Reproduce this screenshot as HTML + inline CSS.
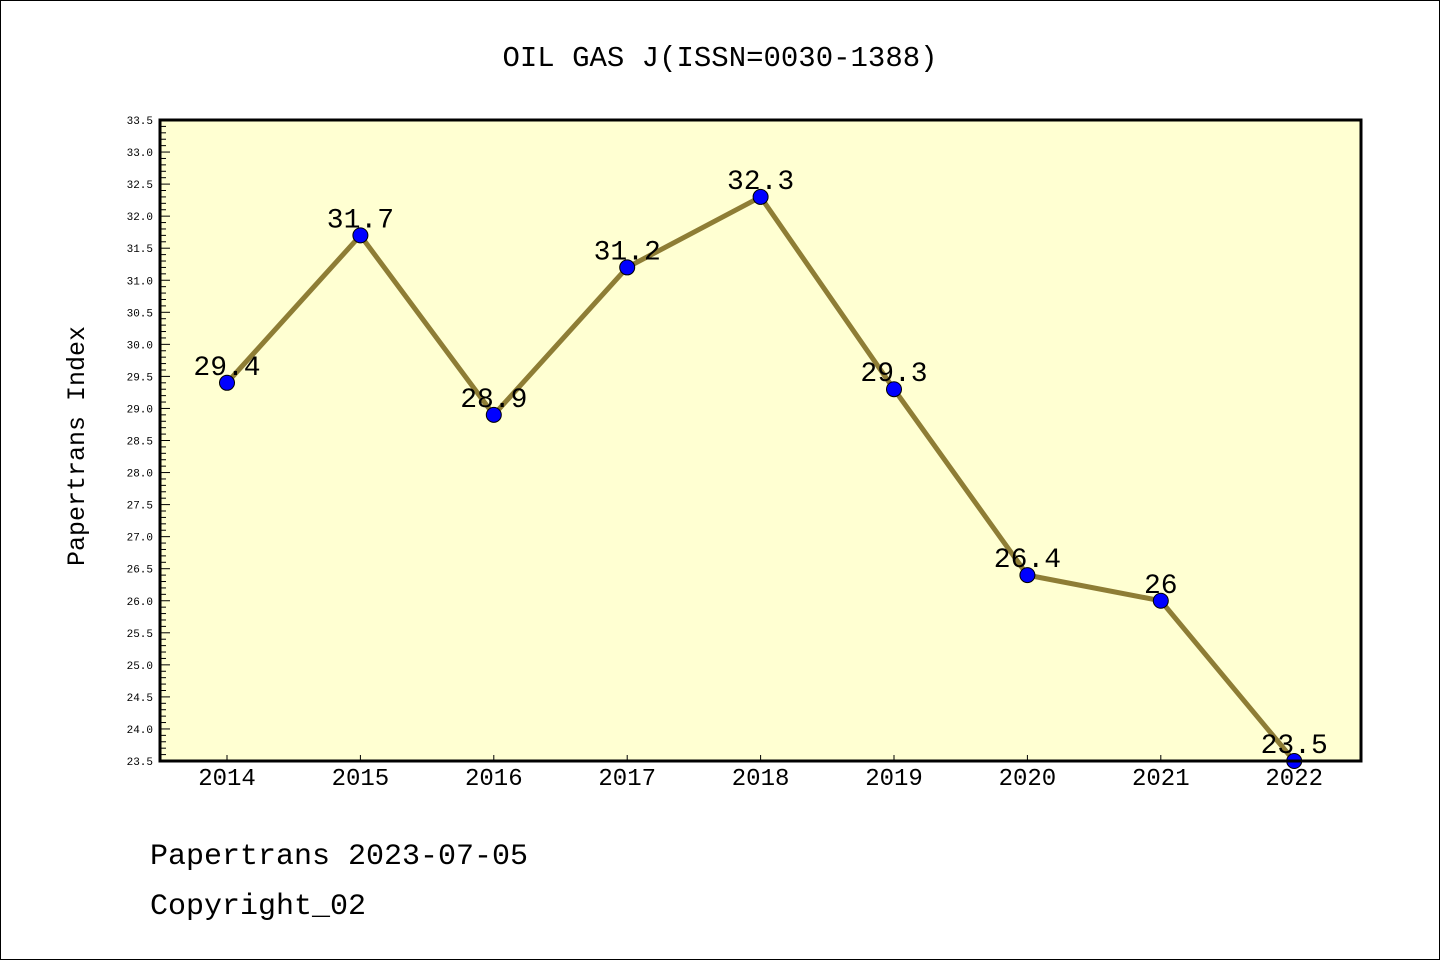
<!DOCTYPE html>
<html><head><meta charset="utf-8"><style>
html,body{margin:0;padding:0;background:#fff}
svg{display:block}
text{font-family:"Liberation Mono","DejaVu Sans Mono",monospace}
</style></head><body>
<svg id="chart" width="1440" height="960" xmlns="http://www.w3.org/2000/svg">
<rect x="0.5" y="0.5" width="1439" height="959" fill="#fff" stroke="#000" stroke-width="1"/>
<text x="720" y="66" font-size="29" text-anchor="middle">OIL GAS J(ISSN=0030-1388)</text>
<rect x="160" y="120" width="1201" height="641" fill="#ffffd2"/>
<g id="ticks"></g>
<g id="series"></g>
<rect x="160" y="120" width="1201" height="641" fill="none" stroke="#000" stroke-width="3"/>
<text transform="translate(84,446) rotate(-90)" font-size="25" text-anchor="middle">Papertrans Index</text>
<text x="150" y="864" font-size="30">Papertrans 2023-07-05</text>
<text x="150" y="914" font-size="30">Copyright_02</text>
</svg>
<script>
const categories = ["2014","2015","2016","2017","2018","2019","2020","2021","2022"];
const values = [29.4,31.7,28.9,31.2,32.3,29.3,26.4,26.0,23.5];
const labels = ["29.4","31.7","28.9","31.2","32.3","29.3","26.4","26","23.5"];
const yMin = 23.5, yMax = 33.5;
const NS = "http://www.w3.org/2000/svg";
const X0 = 227, XSTEP = 133.4, PTOP = 120, PBOT = 761, PLEFT = 160;
function xPos(i){ return X0 + i*XSTEP; }
function yPos(v){ return PBOT - (v - yMin)/(yMax - yMin)*(PBOT - PTOP); }
function mk(tag, attrs, parent){ const e=document.createElementNS(NS,tag); for(const k in attrs) e.setAttribute(k,attrs[k]); parent.appendChild(e); return e; }
const tg = document.getElementById('ticks');
for(let k=0;k<=100;k++){
  const v = yMin + k*0.1, y = yPos(v), major = k%5===0;
  const t = mk('line',{x1:PLEFT,x2:PLEFT+(major?10:6),y1:y,y2:y,stroke:'#000','stroke-width':1},tg);
  
  
  if(major){
    const l = mk('text',{x:153,y:y+4,'font-size':11,'text-anchor':'end',fill:'#000'},tg);
    
    
    l.textContent = v.toFixed(1);
  }
}
categories.forEach((c,i)=>{
  const x = xPos(i);
  const t = mk('line',{x1:x,x2:x,y1:PBOT,y2:PBOT-6,stroke:'#000','stroke-width':1},tg);
  
  
  const l = mk('text',{x:x,y:785,'font-size':24,'text-anchor':'middle',fill:'#000'},tg);
  
  
  l.textContent = c;
});
const sg = document.getElementById('series');
const pts = values.map((v,i)=>xPos(i)+','+yPos(v)).join(' ');
const line = mk('polyline',{points:pts,fill:'none',stroke:'#8e7d35','stroke-width':5,'stroke-linejoin':'round'},sg);


values.forEach((v,i)=>{
  const c = mk('circle',{cx:xPos(i),cy:yPos(v),r:7.5,fill:'#0000ff',stroke:'#000','stroke-width':1},sg);
  
  
  const l = mk('text',{x:xPos(i),y:yPos(v)-8,'font-size':28,'text-anchor':'middle',fill:'#000'},sg);
  
  
  l.textContent = labels[i];
});
</script>
</body></html>
